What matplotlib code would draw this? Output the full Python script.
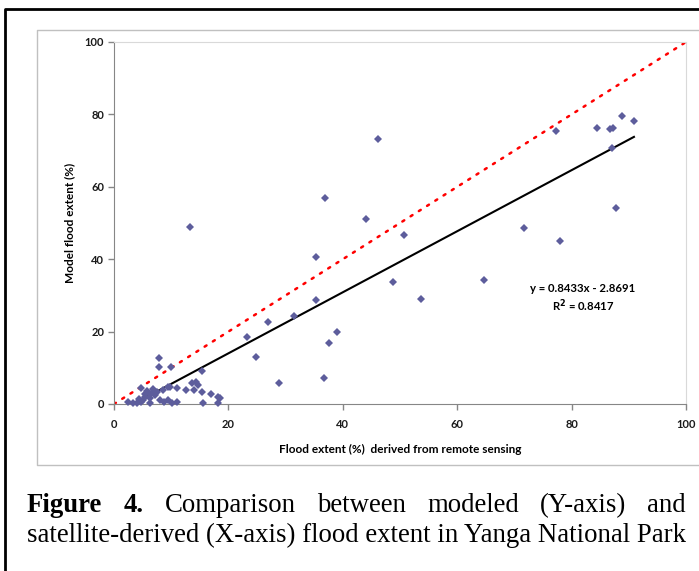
import matplotlib
matplotlib.use("Agg")
import matplotlib.pyplot as plt
from matplotlib.lines import Line2D

# flood extent (%) derived from remote sensing (x) vs model (y)
sat_x = [2.5, 3.4, 4.0, 4.8, 5.1, 5.5, 4.8, 5.4, 6.3, 6.3, 6.3, 7.0, 7.5, 8.0,
         8.6, 8.7, 9.4, 9.5, 9.8, 10.1, 7.9, 7.9, 10.0, 11.0, 11.1, 12.5, 13.6,
         14.3, 14.7, 13.9, 15.4, 15.3, 15.6, 16.9, 18.1, 18.2, 5.8, 6.8, 4.3,
         7.2, 13.2,
         18.5, 23.2, 24.9, 27.0, 28.8, 31.4, 35.3, 35.3, 36.7, 36.9, 37.5, 38.9,
         44.1, 46.2, 48.7, 50.7, 53.6, 64.6, 71.7, 77.2, 77.9, 84.4, 86.7, 87.2,
         87.1, 87.7, 88.8, 90.9]
model_y = [0.5, 0.4, 0.3, 0.5, 1.1, 2.0, 4.3, 2.9, 2.9, 1.6, 0.2, 3.5, 3.4, 1.1,
           4.0, 0.6, 1.1, 4.8, 4.6, 0.4, 12.6, 10.3, 10.1, 4.3, 0.6, 4.0, 5.7,
           6.2, 5.2, 3.9, 3.4, 9.2, 0.4, 2.9, 1.8, 0.2, 3.6, 4.2, 1.5,
           2.5, 48.8,
           1.7, 18.6, 13.1, 22.7, 5.7, 24.2, 40.7, 28.7, 7.2, 56.9, 16.9, 19.9,
           51.0, 73.1, 33.6, 46.7, 29.0, 34.3, 48.7, 75.5, 45.0, 76.3, 76.1, 76.3,
           70.6, 54.2, 79.5, 78.3]

slope = 0.8433
intercept = -2.8691
r2 = 0.8417
ticks = [0, 20, 40, 60, 80, 100]

W, H = 699, 571
fig = plt.figure(figsize=(W / 100, H / 100), dpi=100)


def fx(px):
    return px / W


def fy(py):
    return 1 - py / H


# outer black box, grey chart frame
fig.add_artist(Line2D([fx(5), fx(5), 1], [0, fy(9), fy(9)], color='black', lw=2,
                      transform=fig.transFigure))
fig.add_artist(Line2D([1, fx(37), fx(37), 1], [fy(30), fy(30), fy(465), fy(465)],
                      color='#c0c0c0', lw=1, transform=fig.transFigure))

ax = fig.add_axes([fx(114), fy(404), fx(686) - fx(114), fy(42) - fy(404)])
ax.set_xlim(0, 100)
ax.set_ylim(0, 100)

# 1:1 line
ax.plot([0, 100], [0, 100], color='red', lw=1.8, linestyle=(0, (0.9, 3.0)),
        dash_capstyle='round', zorder=2)
# trend line
x0, x1 = min(sat_x), max(sat_x)
ax.plot([x0, x1], [slope * x0 + intercept, slope * x1 + intercept],
        color='black', lw=1.5, zorder=3)
ax.plot(sat_x, model_y, linestyle='none', marker='D', markersize=4.5,
        color='#5d5d9c', markeredgewidth=0, zorder=4, clip_on=False)

fnt = ['Lato', 'DejaVu Sans']
ax.set_xticks(ticks)
ax.set_yticks(ticks)
ax.tick_params(axis='both', direction='out', length=4, color='#868686', width=1,
               labelsize=8, labelcolor='#1a1a1a')
ax.tick_params(axis='x', pad=7)
ax.tick_params(axis='y', pad=3)
for lb in ax.get_xticklabels() + ax.get_yticklabels():
    lb.set_fontweight('bold')
    lb.set_family(fnt)
for s in ['left', 'bottom']:
    ax.spines[s].set_color('#868686')
for s in ['top', 'right']:
    ax.spines[s].set_color('#d9d9d9')

ax.set_xlabel('Flood extent (%)  derived from remote sensing', fontsize=8.5,
              fontweight='bold', family=fnt, labelpad=10)
ax.set_ylabel('Model flood extent (%)', fontsize=8.5, fontweight='bold',
              family=fnt, labelpad=7)

fig.text(fx(583), fy(288), 'y = %.4fx - %.4f' % (slope, -intercept), fontsize=8.2,
         fontweight='bold', family=fnt, ha='center', va='center')
fig.text(fx(583), fy(306), 'R$^{\\mathbf{2}}$ = %.4f' % r2, fontsize=8.2,
         fontweight='bold', family=fnt, ha='center', va='center')

# caption, justified between x=27 and x=686
left, right = 27, 686
serif = ['Liberation Serif', 'DejaVu Serif']
line2 = 'satellite-derived (X-axis) flood extent in Yanga National Park'
fig.canvas.draw()
r = fig.canvas.get_renderer()
t2 = fig.text(fx(left), fy(542), line2, fontsize=17, family=serif, va='baseline')
w = t2.get_window_extent(r).width
fs = 17 * (right - left) / w
t2.set_fontsize(fs)

words = [('Figure', 'bold'), ('4.', 'bold'), ('Comparison', 'normal'),
         ('between', 'normal'), ('modeled', 'normal'), ('(Y-axis)', 'normal'),
         ('and', 'normal')]
objs = []
for word, wt in words:
    objs.append(fig.text(0, fy(512), word, fontsize=fs, family=serif,
                         fontweight=wt, va='baseline'))
widths = [o.get_window_extent(r).width for o in objs]
gap = (right - left - sum(widths)) / (len(words) - 1)
xpos = left
for o, wd in zip(objs, widths):
    o.set_x(fx(xpos))
    xpos += wd + gap

fig.savefig('out.png', dpi=100)
